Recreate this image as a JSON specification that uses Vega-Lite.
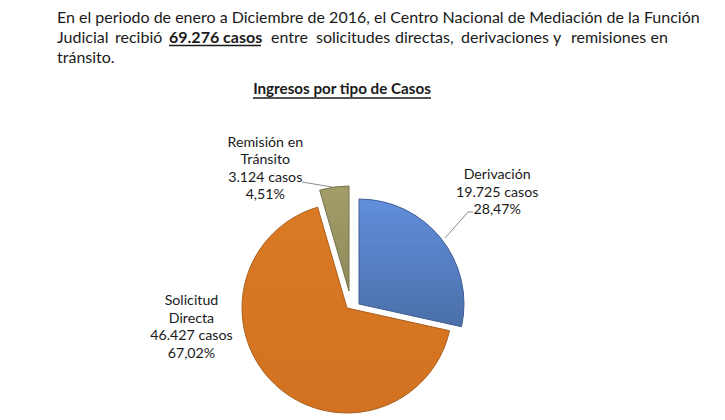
{
"$schema":"https://vega.github.io/schema/vega-lite/v6.json",
"width":694,"height":200,
"autosize":{"type":"none"},
"padding":{"left":0,"top":208,"right":31,"bottom":12},
"background":"white",
"config":{"view":{"stroke":null},"text":{"font":"Lato","color":"#1a1a1a"}},
"data":{"values":[
{"tipo":"Derivación","orden":1,"casos":19725,"etiqueta":"Derivación\n19.725 casos\n28,47%"},
{"tipo":"Solicitud Directa","orden":2,"casos":46427,"etiqueta":"Solicitud\nDirecta\n46.427 casos\n67,02%"},
{"tipo":"Remisión en Tránsito","orden":3,"casos":3124,"etiqueta":"Remisión en\nTránsito\n3.124 casos\n4,51%"}
]},
"transform":[
{"stack":"casos","groupby":[],"sort":[{"field":"orden","order":"ascending"}],"as":["ini","fin"]},
{"calculate":"(datum.ini+datum.fin)/2","as":"medio"}
],
"layer":[
{"transform":[{"filter":"datum.orden==2"}],
 "mark":{"type":"arc","radius":105,"stroke":"#a8601f","strokeWidth":1,"fill":{"gradient":"linear","x1":0,"y1":0,"x2":0,"y2":1,"stops":[{"offset":0,"color":"#db7a24"},{"offset":1,"color":"#d27120"}]}},
 "encoding":{"theta":{"field":"ini","type":"quantitative","scale":{"domain":[0,69276],"range":[0,6.2832]}},"theta2":{"field":"fin"}}},
{"transform":[{"filter":"datum.orden==1"}],
 "mark":{"type":"arc","radius":105,"xOffset":12,"yOffset":-4,"stroke":"#3f5f92","strokeWidth":1,"fill":{"gradient":"linear","x1":0,"y1":0,"x2":0,"y2":1,"stops":[{"offset":0,"color":"#628fdc"},{"offset":1,"color":"#4a6fa9"}]}},
 "encoding":{"theta":{"field":"ini","type":"quantitative","scale":{"domain":[0,69276],"range":[0,6.2832]}},"theta2":{"field":"fin"}}},
{"transform":[{"filter":"datum.orden==3"}],
 "mark":{"type":"arc","radius":105,"xOffset":2,"yOffset":-17,"stroke":"#77734a","strokeWidth":1,"fill":{"gradient":"linear","x1":0,"y1":0,"x2":0,"y2":1,"stops":[{"offset":0,"color":"#a39d6a"},{"offset":1,"color":"#8f8a5a"}]}},
 "encoding":{"theta":{"field":"ini","type":"quantitative","scale":{"domain":[0,69276],"range":[0,6.2832]}},"theta2":{"field":"fin"}}},
{"transform":[{"filter":"datum.orden==1"}],
 "mark":{"type":"rule","stroke":"#8c8c8c","strokeWidth":1},"encoding":{"x":{"value":445},"y":{"value":30},"x2":{"value":468},"y2":{"value":4}}},
{"transform":[{"filter":"datum.orden==1"}],
 "mark":{"type":"rule","stroke":"#8c8c8c","strokeWidth":1},"encoding":{"x":{"value":468},"y":{"value":4},"x2":{"value":473},"y2":{"value":4}}},
{"transform":[{"filter":"datum.orden==3"}],
 "mark":{"type":"rule","stroke":"#8c8c8c","strokeWidth":1},"encoding":{"x":{"value":302},"y":{"value":-26},"x2":{"value":332},"y2":{"value":-21}}},
{"transform":[{"filter":"datum.orden==1"}],
 "mark":{"type":"text","radius":190,"dx":2,"dy":-14,"fontSize":14.2,"lineBreak":"\n","lineHeight":17.5,"align":"center","baseline":"middle"},
 "encoding":{"theta":{"field":"medio","type":"quantitative","scale":{"domain":[0,69276],"range":[0,6.2832]}},"text":{"field":"etiqueta"}}},
{"transform":[{"filter":"datum.orden==3"}],
 "mark":{"type":"text","radius":161,"dx":-59,"dy":-6,"fontSize":14.2,"lineBreak":"\n","lineHeight":17.5,"align":"center","baseline":"middle"},
 "encoding":{"theta":{"field":"medio","type":"quantitative","scale":{"domain":[0,69276],"range":[0,6.2832]}},"text":{"field":"etiqueta"}}},
{"transform":[{"filter":"datum.orden==2"}],
 "mark":{"type":"text","radius":150,"dx":-53,"dy":-116,"fontSize":14.2,"lineBreak":"\n","lineHeight":17.5,"align":"center","baseline":"middle"},
 "encoding":{"theta":{"field":"medio","type":"quantitative","scale":{"domain":[0,69276],"range":[0,6.2832]}},"text":{"field":"etiqueta"}}},
{"data":{"values":[{"t":"En el periodo de enero a Diciembre de 2016, el Centro Nacional de Mediación de la Función"}]},"transform":[],
 "mark":{"type":"text","x":57,"y":-185,"fontSize":16,"align":"left","baseline":"alphabetic"},"encoding":{"text":{"field":"t"}}},
{"data":{"values":[{"t":"Judicial"}]},"mark":{"type":"text","x":57,"y":-165,"fontSize":16,"align":"left","baseline":"alphabetic"},"encoding":{"text":{"field":"t"}}},
{"data":{"values":[{"t":"recibió"}]},"mark":{"type":"text","x":115,"y":-165,"fontSize":16,"align":"left","baseline":"alphabetic"},"encoding":{"text":{"field":"t"}}},
{"data":{"values":[{"t":"69.276 casos"}]},"mark":{"type":"text","x":169,"y":-165,"fontSize":16,"fontWeight":"bold","align":"left","baseline":"alphabetic"},"encoding":{"text":{"field":"t"}}},
{"data":{"values":[{"t":"entre"}]},"mark":{"type":"text","x":271,"y":-165,"fontSize":16,"align":"left","baseline":"alphabetic"},"encoding":{"text":{"field":"t"}}},
{"data":{"values":[{"t":"solicitudes"}]},"mark":{"type":"text","x":316,"y":-165,"fontSize":16,"align":"left","baseline":"alphabetic"},"encoding":{"text":{"field":"t"}}},
{"data":{"values":[{"t":"directas,"}]},"mark":{"type":"text","x":395,"y":-165,"fontSize":16,"align":"left","baseline":"alphabetic"},"encoding":{"text":{"field":"t"}}},
{"data":{"values":[{"t":"derivaciones"}]},"mark":{"type":"text","x":461,"y":-165,"fontSize":16,"align":"left","baseline":"alphabetic"},"encoding":{"text":{"field":"t"}}},
{"data":{"values":[{"t":"y"}]},"mark":{"type":"text","x":553,"y":-165,"fontSize":16,"align":"left","baseline":"alphabetic"},"encoding":{"text":{"field":"t"}}},
{"data":{"values":[{"t":"remisiones"}]},"mark":{"type":"text","x":571,"y":-165,"fontSize":16,"align":"left","baseline":"alphabetic"},"encoding":{"text":{"field":"t"}}},
{"data":{"values":[{"t":"en"}]},"mark":{"type":"text","x":668,"y":-165,"fontSize":16,"align":"right","baseline":"alphabetic"},"encoding":{"text":{"field":"t"}}},
{"data":{"values":[{"t":"tránsito."}]},"mark":{"type":"text","x":57,"y":-145,"fontSize":16,"align":"left","baseline":"alphabetic"},"encoding":{"text":{"field":"t"}}},
{"data":{"values":[{"t":"Ingresos por tipo de Casos"}]},"mark":{"type":"text","x":342,"y":-114,"fontSize":15.2,"fontWeight":"bold","align":"center","baseline":"alphabetic"},"encoding":{"text":{"field":"t"}}},
{"data":{"values":[{"t":"a"}]},"mark":{"type":"rule","stroke":"#1a1a1a","strokeWidth":1.5},"encoding":{"x":{"value":169},"x2":{"value":261},"y":{"value":-162.5},"y2":{"value":-162.5}}},
{"data":{"values":[{"t":"b"}]},"mark":{"type":"rule","stroke":"#1a1a1a","strokeWidth":1.5},"encoding":{"x":{"value":253},"x2":{"value":431},"y":{"value":-110},"y2":{"value":-110}}}
]
}
